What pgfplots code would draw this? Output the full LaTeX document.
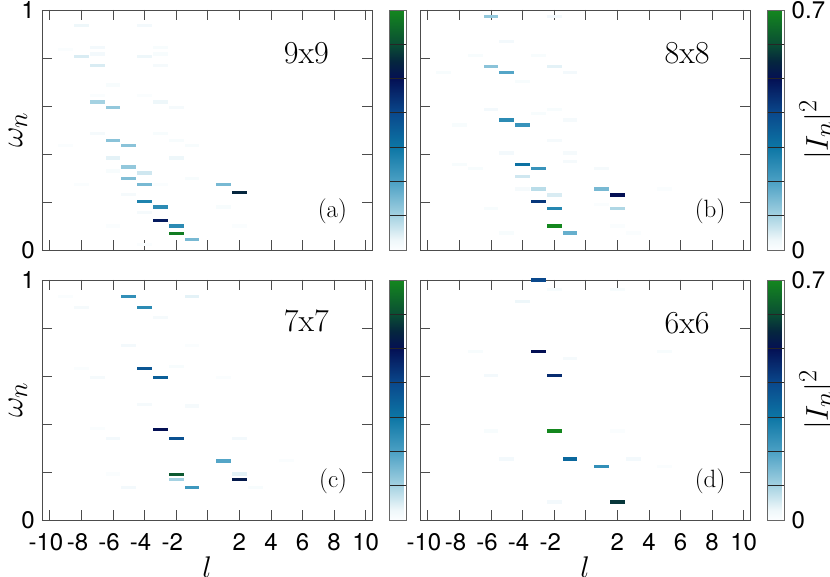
\documentclass[border=0pt]{standalone}
\usepackage{graphicx}
\usepackage{pgfplots}
\pgfplotsset{compat=1.18}
\usepackage{fontspec}
\newfontfamily\tickfont{TeX Gyre Heros}
\newcommand{\bigmath}[2]{\fontsize{24.88}{30}\selectfont\scalebox{#1}{$#2$}}
\pgfdeclareplotmark{dash}{\pgfpathrectangle{\pgfqpoint{-7.4pt}{-1.6pt}}{\pgfqpoint{14.8pt}{3.2pt}}\pgfusepathqfill}
\pgfplotsset{
  colormap={mymap}{rgb255(0cm)=(252,254,255) rgb255(0.3cm)=(238,247,250) rgb255(1cm)=(165,210,226) rgb255(2cm)=(75,160,196) rgb255(3cm)=(12,118,165) rgb255(4cm)=(10,72,140) rgb255(5cm)=(4,16,84) rgb255(5.5cm)=(5,38,62) rgb255(6cm)=(10,78,52) rgb255(7cm)=(20,135,30)},
  panel/.style={
    scale only axis, width=330pt, height=240pt,
    xmin=-10.5, xmax=10.4, ymin=0, ymax=1,
    xtick={-10,-8,-6,-4,-2,0,2,4,6,8,10},
    ytick={0,0.2,0.4,0.6,0.8,1},
    xticklabels={}, yticklabels={},
    tick align=inside, major tick length=10pt,
    axis on top,
    axis line style={draw=black!70, line width=0.8pt},
    every tick/.style={draw=black!70, line width=0.8pt},
    tick label style={font=\tickfont\fontsize{24}{24}\selectfont, inner sep=1pt},
    xticklabel style={yshift=-12pt},
    yticklabel style={xshift=-6pt},
    colormap name=mymap, point meta min=0, point meta max=0.7,
    colorbar,
    colorbar style={
      at={(parent axis.north east)}, anchor=north west, xshift=9pt,
      width=17pt,
      ytick={0,0.1,0.2,0.3,0.4,0.5,0.6,0.7},
      yticklabels={},
      major tick length=0pt,
      axis on top,
      ymajorgrids, grid style={draw=black!85, line width=0.8pt},
      axis line style={draw=black!60, line width=0.8pt},
      tick label style={font=\tickfont\fontsize{24}{24}\selectfont, inner sep=1pt},
      yticklabel style={xshift=6pt},
    },
  },
  rightbar/.style={
    colorbar style={
      yticklabels={0,,,,,,,0.7},
      ylabel={\bigmath{1.27}{|I_n|^2}},
      every axis y label/.style={at={(rel axis cs:1,0.5)}, anchor=center, xshift=33pt, rotate=90, inner sep=0pt},
    },
  },
  leftlab/.style={
    yticklabels={0,,,,,1},
    ylabel={\bigmath{1.27}{\omega_n}},
    every axis y label/.style={at={(rel axis cs:0,0.5)}, anchor=center, xshift=-24pt, rotate=90, inner sep=0pt},
  },
  bottomlab/.style={
    xticklabels={\llap{-}10,\llap{-}8,\llap{-}6,\llap{-}4,\llap{-}2,,2,4,6,8,10},
    xlabel={\bigmath{1.2}{l}},
    every axis x label/.style={at={(rel axis cs:0.5,0)}, anchor=center, yshift=-47pt, inner sep=0pt},
  },
  dashes/.style={scatter, only marks, mark=dash, scatter src=explicit,
    scatter/use mapped color={draw=mapped color, fill=mapped color}},
}
\pgfplotstableread{
x y c
-9 0.836 0.005
-9 0.435 0.005
-8 0.274 0.005
-8 0.935 0.03
-8 0.806 0.05
-7 0.843 0.02
-7 0.817 0.02
-7 0.770 0.05
-7 0.643 0.005
-7 0.617 0.10
-7 0.485 0.015
-6 0.6875 0.01
-6 0.594 0.12
-6 0.457 0.13
-6 0.383 0.04
-6 0.329 0.01
-6 0.100 0.005
-5 0.435 0.13
-5 0.346 0.12
-5 0.299 0.14
-5 0.232 0.015
-4 0.935 0.02
-4 0.806 0.03
-4 0.643 0.005
-4 0.321 0.06
-4 0.274 0.15
-4 0.201 0.27
-4 0.157 0.015
-4 0.023 0.005
-3 0.843 0.01
-3 0.817 0.01
-3 0.770 0.015
-3 0.617 0.03
-3 0.485 0.01
-3 0.274 0.005
-3 0.179 0.25
-3 0.124 0.48
-2 0.594 0.015
-2 0.457 0.01
-2 0.383 0.03
-2 0.100 0.25
-2 0.068 0.68
-1 0.435 0.01
-1 0.299 0.01
-1 0.043 0.15
1 0.274 0.15
1 0.179 0.01
2 0.240 0.55
2 0.100 0.005
}\dataA
\pgfplotstableread{
x y c
-9 0.740 0.01
-8 0.521 0.01
-8 0.357 0.01
-7 0.809 0.01
-7 0.338 0.01
-6 0.974 0.12
-6 0.763 0.13
-6 0.586 0.02
-6 0.173 0.01
-5 0.870 0.02
-5 0.740 0.19
-5 0.542 0.25
-5 0.404 0.02
-5 0.071 0.01
-4 0.702 0.01
-4 0.521 0.23
-4 0.357 0.31
-4 0.305 0.06
-4 0.254 0.015
-3 0.809 0.01
-3 0.569 0.01
-3 0.338 0.23
-3 0.254 0.08
-3 0.203 0.43
-2 0.974 0.02
-2 0.763 0.04
-2 0.586 0.01
-2 0.456 0.015
-2 0.229 0.05
-2 0.173 0.26
-2 0.100 0.70
-1 0.740 0.02
-1 0.542 0.015
-1 0.404 0.015
-1 0.369 0.015
-1 0.071 0.17
1 0.338 0.015
1 0.254 0.15
1 0.191 0.005
2 0.229 0.50
2 0.173 0.09
2 0.100 0.005
3 0.071 0.005
5 0.254 0.005
}\dataB
\pgfplotstableread{
x y c
-9 0.930 0.005
-8 0.884 0.015
-8 0.631 0.005
-7 0.593 0.015
-7 0.380 0.005
-6 0.338 0.02
-6 0.192 0.005
-5 0.930 0.24
-5 0.726 0.02
-5 0.135 0.02
-4 0.884 0.25
-4 0.631 0.37
-4 0.480 0.015
-3 0.843 0.015
-3 0.593 0.35
-3 0.377 0.50
-2 0.641 0.01
-2 0.338 0.38
-2 0.170 0.10
-2 0.190 0.62
-1 0.930 0.04
-1 0.726 0.005
-1 0.475 0.015
-1 0.135 0.22
1 0.593 0.005
1 0.246 0.19
2 0.338 0.02
2 0.192 0.04
2 0.170 0.52
3 0.135 0.01
5 0.248 0.005
}\dataC
\pgfplotstableread{
x y c
-7 0.701 0.01
-6 0.603 0.02
-6 0.371 0.01
-5 0.254 0.02
-4 0.910 0.03
-3 1.000 0.40
-3 0.701 0.50
-2 0.961 0.01
-2 0.603 0.45
-2 0.371 0.70
-2 0.075 0.02
-1 0.672 0.015
-1 0.254 0.33
1 0.222 0.24
2 0.961 0.01
2 0.371 0.005
2 0.075 0.57
3 0.254 0.02
5 0.701 0.01
5 0.222 0.005
}\dataD
\begin{document}
\begin{tikzpicture}
\useasboundingbox (0,0) rectangle (830pt,-577pt);
\begin{axis}[panel, leftlab, at={(42pt,-10pt)}, anchor=north west]
\addplot[dashes] table[x=x, y=y, meta=c] {\dataA};
\node[anchor=east, font=\fontsize{32}{32}\selectfont] at (rel axis cs:0.88,0.82) {9x9};
\node[anchor=east, font=\fontsize{25}{25}\selectfont] at (rel axis cs:0.935,0.16) {(a)};
\end{axis}
\begin{axis}[panel, rightbar, at={(420pt,-10pt)}, anchor=north west]
\addplot[dashes] table[x=x, y=y, meta=c] {\dataB};
\node[anchor=east, font=\fontsize{32}{32}\selectfont] at (rel axis cs:0.888,0.82) {8x8};
\node[anchor=east, font=\fontsize{25}{25}\selectfont] at (rel axis cs:0.936,0.16) {(b)};
\end{axis}
\begin{axis}[panel, leftlab, bottomlab, at={(42pt,-280pt)}, anchor=north west]
\addplot[dashes] table[x=x, y=y, meta=c] {\dataC};
\node[anchor=east, font=\fontsize{32}{32}\selectfont] at (rel axis cs:0.88,0.83) {7x7};
\node[anchor=east, font=\fontsize{25}{25}\selectfont] at (rel axis cs:0.935,0.16) {(c)};
\end{axis}
\begin{axis}[panel, rightbar, bottomlab, at={(420pt,-280pt)}, anchor=north west]
\addplot[dashes] table[x=x, y=y, meta=c] {\dataD};
\node[anchor=east, font=\fontsize{32}{32}\selectfont] at (rel axis cs:0.888,0.82) {6x6};
\node[anchor=east, font=\fontsize{25}{25}\selectfont] at (rel axis cs:0.936,0.16) {(d)};
\end{axis}
\end{tikzpicture}
\end{document}
